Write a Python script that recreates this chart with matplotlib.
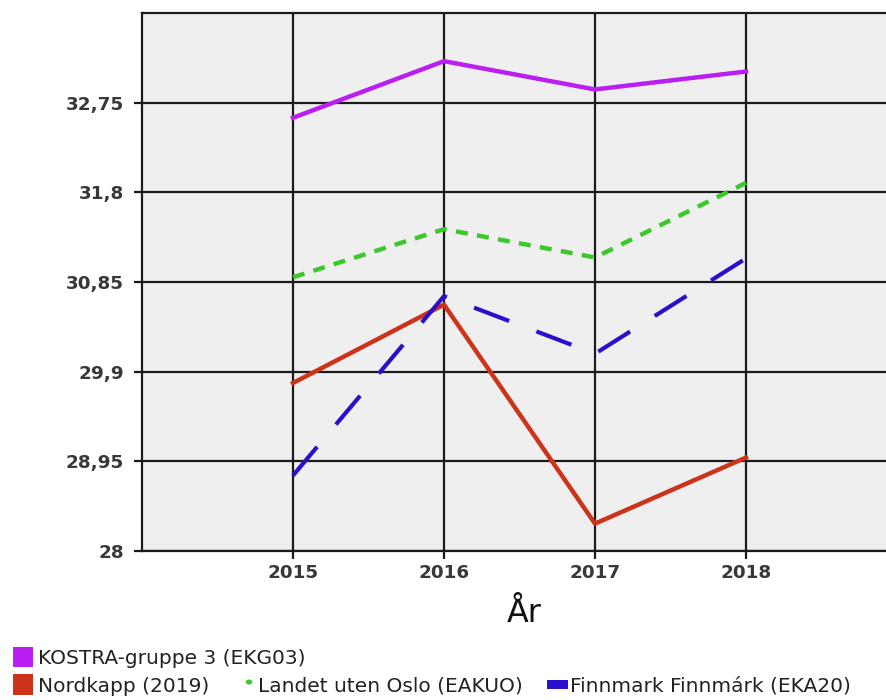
import matplotlib
matplotlib.use("Agg")
import matplotlib.pyplot as plt
from matplotlib.patches import Rectangle, Circle

years = [2015, 2016, 2017, 2018]
kostra = [32.59, 33.19, 32.89, 33.08]
landet = [30.90, 31.41, 31.11, 31.90]
finnmark = [28.80, 30.70, 30.09, 31.10]
nordkapp = [29.78, 30.61, 28.29, 28.99]
yticks = [28, 28.95, 29.9, 30.85, 31.8, 32.75]
ytick_labels = ["28", "28,95", "29,9", "30,85", "31,8", "32,75"]
legend_labels = ["KOSTRA-gruppe 3 (EKG03)", "Nordkapp (2019)",
                 "Landet uten Oslo (EAKUO)", "Finnmark Finnmárk (EKA20)"]
xlabel = "År"

c_kostra = "#BB1EF0"
c_nordkapp = "#CC3318"
c_landet = "#3CC82A"
c_finn = "#2A10CC"

W, H = 886, 700
fig = plt.figure(figsize=(W / 100, H / 100), dpi=100)
ax = fig.add_axes([142 / W, (H - 551) / H, (W - 142) / W, (551 - 13) / H])
ax.set_facecolor("#EFEFEF")

ax.plot(years, kostra, color=c_kostra, lw=3.2, zorder=3)
ax.plot(years, nordkapp, color=c_nordkapp, lw=3.2, zorder=3)
ax.plot(years, landet, color=c_landet, lw=3.2, dashes=(2.7, 2.1), zorder=3)
ax.plot(years, finnmark, color=c_finn, lw=3.0, dashes=(9.0, 7.0), zorder=3)

ax.set_xlim(2014, 2014 + 744 / 151)
ax.set_ylim(28, 33.7)
ax.set_xticks(years)
ax.set_xticklabels([str(y) for y in years])
ax.set_yticks(yticks)
ax.set_yticklabels(ytick_labels)
ax.grid(True, color="#1a1a1a", lw=1.6, zorder=1)
ax.set_axisbelow(True)
for s in ax.spines.values():
    s.set_color("#1a1a1a")
    s.set_linewidth(1.6)
ax.spines["right"].set_visible(False)
ax.tick_params(axis="both", direction="out", length=6, width=1.6, color="#1a1a1a",
               labelsize=13.2, labelcolor="#383838")
ax.tick_params(axis="y", pad=7)
ax.tick_params(axis="x", pad=3)
for lab in ax.get_xticklabels() + ax.get_yticklabels():
    lab.set_fontweight("bold")

fig.text(524 / W, 1 - 614 / H, xlabel, fontsize=23, ha="center", va="center", color="#111111")

# legend
fs = 14.5
tc = "#222222"
def sq(x0, y0, w, h, col):
    fig.patches.append(Rectangle((x0 / W, 1 - (y0 + h) / H), w / W, h / H,
                                 transform=fig.transFigure, facecolor=col, edgecolor="none"))

sq(13, 647, 20, 20, c_kostra)
fig.text(38 / W, 1 - 659 / H, legend_labels[0], fontsize=fs, va="center", color=tc)
sq(13, 674, 20, 21, c_nordkapp)
fig.text(38 / W, 1 - 686 / H, legend_labels[1], fontsize=fs, va="center", color=tc)
fig.patches.append(Circle((249 / W, 1 - 682 / H), 3.2 / W, transform=fig.transFigure,
                          facecolor=c_landet, edgecolor="none"))
fig.text(258 / W, 1 - 686 / H, legend_labels[2], fontsize=fs, va="center", color=tc)
sq(547, 680, 21, 9, c_finn)
fig.text(570 / W, 1 - 686 / H, legend_labels[3], fontsize=fs, va="center", color=tc)

fig.savefig("out.png", dpi=100)
